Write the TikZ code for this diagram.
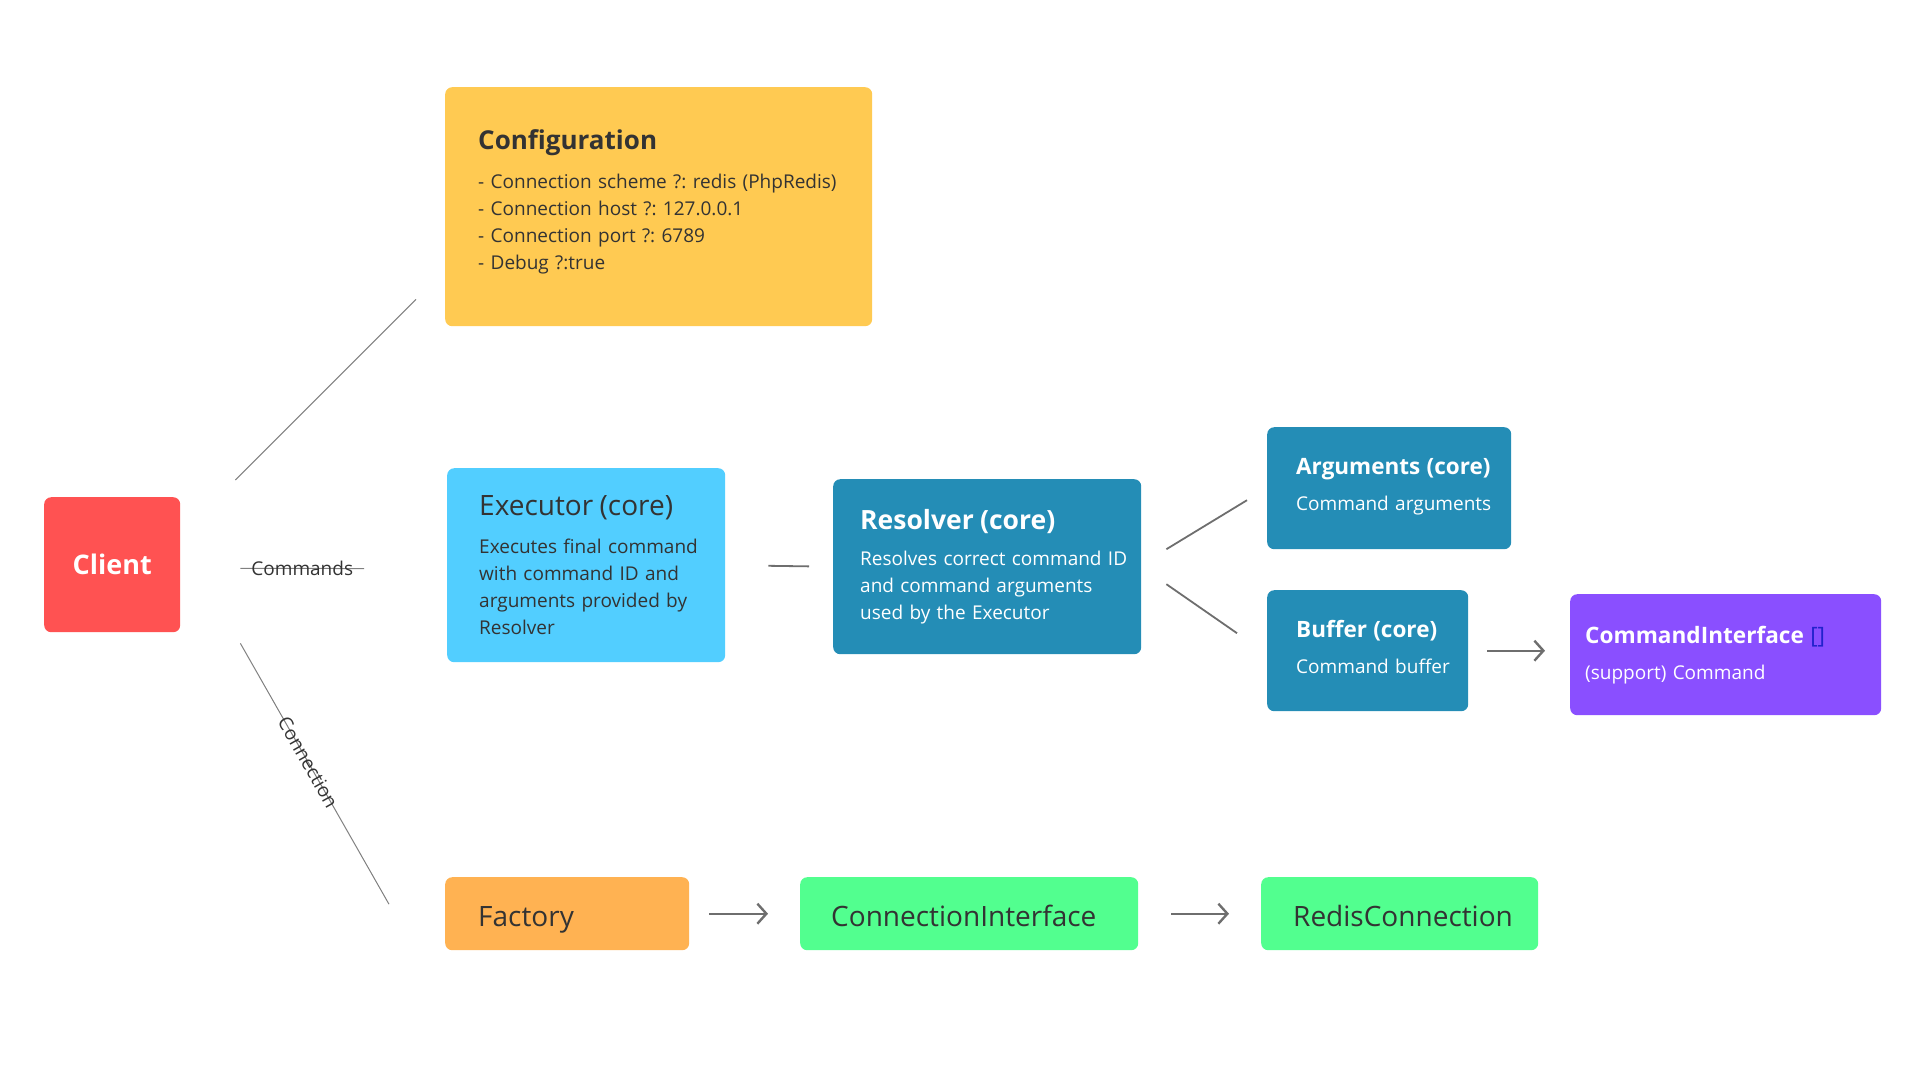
\documentclass[tikz,border=0pt]{standalone}
\usepackage{fontspec}
\setmainfont{Open Sans}
\usetikzlibrary{arrows.meta}
\frenchspacing

\definecolor{clientred}{HTML}{FF5252}
\definecolor{cfgyellow}{HTML}{FFCA52}
\definecolor{exeblue}{HTML}{52CEFF}
\definecolor{coreblue}{HTML}{248DB6}
\definecolor{supportpurple}{HTML}{8A4FFF}
\definecolor{factoryorange}{HTML}{FFB252}
\definecolor{connectgreen}{HTML}{52FF8F}
\definecolor{textdark}{HTML}{333333}
\definecolor{linegray}{HTML}{808080}
\definecolor{arrowgray}{HTML}{6E6E6E}
\definecolor{bracketblue}{HTML}{2222CC}

\begin{document}
\begin{tikzpicture}[x=1pt,y=-1pt,%
    box/.style={rounded corners=7pt,anchor=north west,align=left,inner sep=0pt,
      text=textdark,font=\fontsize{19pt}{27pt}\selectfont},
    card/.style 2 args={box,minimum width=#1,text width=#1,
      execute at begin node={\leftskip=#2\relax\hyphenpenalty=10000\relax}},
    rowbox/.style={minimum height=73pt,text height=32pt,text depth=7pt,
      font=\fontsize{28pt}{32pt}\selectfont},
    thinline/.style={draw=linegray,line width=1pt},
    midline/.style={draw=arrowgray,line width=1.8pt},
    arrow/.style={draw=arrowgray,line width=2.4pt,-{Straight Barb[length=9pt,width=20pt]}},
    lbl/.style={font=\fontsize{19pt}{22pt}\selectfont,text=textdark,inner sep=0pt}
  ]
		\useasboundingbox (0,0) rectangle (1920,1080);

		\node at (44,497) [box,fill=clientred,minimum width=136pt,minimum height=135pt,
			align=center,text=white,font=\fontsize{27pt}{32pt}\selectfont\bfseries] (cli) {Client};

		\node at (445,87) [card={427pt}{33pt},fill=cfgyellow,minimum height=239pt] (cfg)
			{{\fontsize{26pt}{30pt}\selectfont\bfseries Configuration\par}\vspace{12pt}
			- Connection scheme ?: redis (PhpRedis)\\
			- Connection host ?: 127.0.0.1\\
			- Connection port ?: 6789\\
			- Debug ?:true\rule[-15pt]{0pt}{0pt}};

		\node at (447,468) [card={278pt}{32pt},fill=exeblue,minimum height=194pt] (exe)
			{{\fontsize{28pt}{32pt}\selectfont Executor (core)\par}\vspace{11pt}
			Executes final command\\
			with command ID and\\
			arguments provided by\\
			Resolver};

		\node at (833,479) [card={308pt}{27pt},fill=coreblue,text=white,minimum height=175pt] (res)
			{{\fontsize{26.5pt}{30pt}\selectfont\bfseries Resolver (core)\par}\vspace{9.5pt}
			Resolves correct command ID\\
			and command arguments\\
			used by the Executor};

		\node at (1267,427) [card={244pt}{29pt},fill=coreblue,text=white,minimum height=122pt] (arg)
			{{\fontsize{22.5pt}{26pt}\selectfont\bfseries Arguments (core)\par}\vspace{9pt}
			Command arguments\rule[-8pt]{0pt}{0pt}};

		\node at (1267,590) [card={201pt}{29pt},fill=coreblue,text=white,minimum height=121pt] (buf)
			{{\fontsize{22.5pt}{26pt}\selectfont\bfseries Buffer (core)\par}\vspace{9pt}
			Command buffer\rule[-8pt]{0pt}{0pt}};

		\node at (1570,594) [card={311pt}{15pt},fill=supportpurple,text=white,minimum height=121pt] (cif)
			{{\fontsize{22.6pt}{26pt}\selectfont\bfseries CommandInterface {\mdseries\color{bracketblue}[]}\par}\vspace{9pt}
			(support) Command};

		\node at (445,877) [card={244pt}{33pt},rowbox,fill=factoryorange] (fac) {Factory};
		\node at (800,877) [card={338pt}{31pt},rowbox,fill=connectgreen] (con) {ConnectionInterface};
		\node at (1261,877) [card={277pt}{32pt},rowbox,fill=connectgreen] (red) {RedisConnection};

		% client branches
		\draw[thinline] ([shift={(55,-17)}]cli.north east) -- ([shift={(-29,-27)}]cfg.south west);
		\draw[thinline,shorten <=60pt,shorten >=83pt] ([shift={(0,3.5)}]cli.east) --
			node[pos=0.457,lbl] {Commands} ([shift={(0,3.5)}]exe.west);
		\draw[thinline] ([shift={(60,11)}]cli.south east) --
			node[pos=0.456,sloped,lbl] {Connection} ([shift={(-56,-9.5)}]fac.west);

		% commands
		\draw[midline,shorten <=43pt,shorten >=24pt] (exe.east) -- (res.west);
		\draw[midline] ([shift={(25,-17.5)}]res.east) -- ([shift={(-20,12)}]arg.west);
		\draw[midline] ([shift={(25,17.5)}]res.east) -- ([shift={(-30,-17.5)}]buf.west);
		\draw[arrow,shorten <=19pt,shorten >=25pt] (buf.east) -- (buf.east -| cif.west);

		% connection
		\draw[arrow,shorten <=20pt,shorten >=32pt] (fac.east) -- (con.west);
		\draw[arrow,shorten <=33pt,shorten >=32pt] (con.east) -- (red.west);
	\end{tikzpicture}
\end{document}
